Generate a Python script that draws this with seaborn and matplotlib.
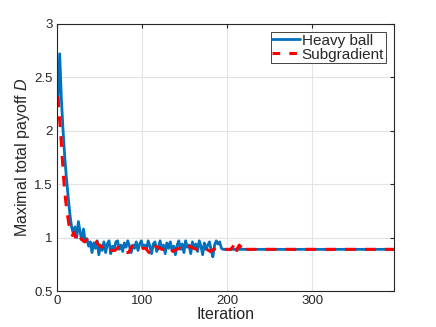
import pandas as pd
import matplotlib.pyplot as plt
import seaborn as sns

# Heavy ball iterates
hb_iter = [1, 3, 5, 7, 9, 11, 13, 15, 17, 19, 21, 23, 25, 27, 29, 31, 33, 35, 37, 39,
           41, 43, 45, 47, 49, 51, 53, 55, 57, 59, 61, 63, 65, 67, 69, 71, 73, 75, 77, 79,
           81, 83, 85, 87, 89, 91, 93, 95, 97, 99, 101, 103, 105, 107, 109, 111, 113, 115, 117, 119,
           121, 123, 125, 127, 129, 131, 133, 135, 137, 139, 141, 143, 145, 147, 149, 151, 153, 155, 157, 159,
           161, 163, 165, 167, 169, 171, 173, 175, 177, 179, 181, 183, 185, 187, 189, 191, 193, 195, 396]
hb_val = [2.26, 2.72, 2.30, 2.00, 1.75, 1.55, 1.38, 1.22, 1.10, 1.04, 1.10, 1.00, 1.15, 1.05, 0.98, 1.08, 0.96, 0.99, 0.92, 0.96,
          0.86, 0.95, 0.90, 0.97, 0.84, 0.93, 0.88, 0.96, 0.86, 0.94, 0.97, 0.85, 0.92, 0.88, 0.96, 0.97, 0.89, 0.93, 0.87, 0.95,
          0.91, 0.97, 0.92, 0.86, 0.93, 0.90, 0.96, 0.88, 0.94, 0.97, 0.90, 0.93, 0.89, 0.97, 0.92, 0.85, 0.94, 0.96, 0.87, 0.91,
          0.97, 0.89, 0.93, 0.85, 0.95, 0.90, 0.96, 0.88, 0.92, 0.84, 0.93, 0.97, 0.89, 0.94, 0.86, 0.97, 0.91, 0.93, 0.85, 0.96,
          0.90, 0.94, 0.87, 0.97, 0.92, 0.84, 0.95, 0.89, 0.93, 0.96, 0.88, 0.82, 0.93, 0.97, 0.94, 0.96, 0.90, 0.89, 0.89]

# Subgradient iterates
sg_iter = [1, 2, 4, 6, 8, 10, 12, 14, 16, 18, 20, 22, 24, 26, 28, 32, 36, 40, 44, 48,
           52, 56, 60, 64, 68, 72, 76, 80, 84, 88, 92, 96, 100, 104, 108, 112, 116, 120, 124, 128,
           132, 136, 140, 144, 148, 152, 156, 160, 164, 168, 172, 176, 180, 184, 188, 196, 204, 208, 210, 212,
           214, 218, 220, 222, 396]
sg_val = [2.32, 2.20, 2.00, 1.75, 1.52, 1.35, 1.22, 1.12, 1.06, 1.02, 1.05, 0.99, 1.01, 0.97, 0.99, 0.96, 0.99, 0.97, 0.98, 0.94,
          0.91, 0.93, 0.90, 0.88, 0.88, 0.91, 0.90, 0.86, 0.86, 0.92, 0.91, 0.89, 0.90, 0.90, 0.86, 0.85, 0.92, 0.90, 0.89, 0.89,
          0.91, 0.87, 0.89, 0.90, 0.88, 0.89, 0.92, 0.90, 0.89, 0.89, 0.90, 0.89, 0.87, 0.89, 0.90, 0.89, 0.89, 0.93, 0.86, 0.90,
          0.93, 0.89, 0.86, 0.89, 0.89]

xticks = [0, 100, 200, 300]
yticks = [0.5, 1, 1.5, 2, 2.5, 3]
ytick_labels = ['0.5', '1', '1.5', '2', '2.5', '3']

sns.set_style('white')
plt.rcParams['font.family'] = ['Liberation Sans', 'DejaVu Sans']
plt.rcParams['mathtext.fontset'] = 'custom'
plt.rcParams['mathtext.it'] = 'Liberation Sans:italic'

fig = plt.figure(figsize=(4.36, 3.27), dpi=100)
ax = fig.add_axes([0.131, 0.110, 0.773, 0.817])

sns.lineplot(x=hb_iter, y=hb_val, ax=ax, color='#0072BD', lw=2, label='Heavy ball')
sns.lineplot(x=sg_iter, y=sg_val, ax=ax, color='#FF0000', lw=2.2, label='Subgradient')
ax.lines[1].set_dashes((3.5, 3))

ax.set_xlim(0, 396)
ax.set_ylim(0.5, 3)
ax.set_xticks(xticks)
ax.set_yticks(yticks)
ax.set_yticklabels(ytick_labels)
ax.grid(True, color='#e3e3e3', lw=0.8)
ax.set_axisbelow(True)
ax.tick_params(direction='in', length=3, width=0.8, colors='#262626', labelsize=9.5,
               top=True, right=True, pad=3)
for s in ax.spines.values():
    s.set_color('#262626')
    s.set_linewidth(0.8)

ax.set_xlabel('Iteration', fontsize=11.5, color='#262626', labelpad=0)
ax.set_ylabel('Maximal total payoff $\\mathit{D}$', fontsize=11.5, color='#262626', labelpad=2)

leg = ax.legend(loc='upper right', fontsize=11, frameon=True, fancybox=False,
                edgecolor='#262626', framealpha=1, borderpad=0.1, labelspacing=0.0,
                handlelength=1.8, handletextpad=0.15, borderaxespad=0.55)
leg.get_frame().set_linewidth(0.6)
leg.legend_handles[1].set_dashes((2.5, 3))

plt.savefig('out.png', dpi=100)
